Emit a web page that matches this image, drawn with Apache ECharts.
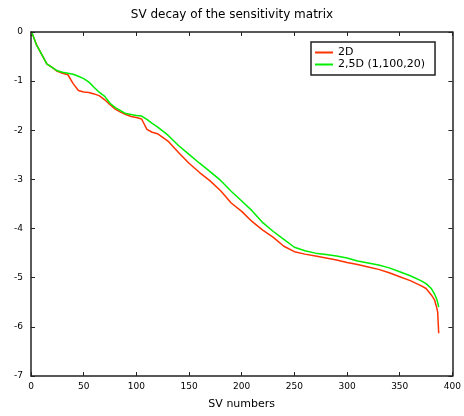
<!DOCTYPE html>
<html>
<head>
<meta charset="utf-8">
<script src="https://cdn.jsdelivr.net/npm/echarts@6/dist/echarts.min.js"></script>
<style>html,body{margin:0;padding:0;background:#fff;}#chart{width:464px;height:416px;}</style>
</head>
<body>
<div id="chart"></div>
<script>
var titleText = 'SV decay of the sensitivity matrix';
var xAxisName = 'SV numbers';
var seriesNames = ['2D', '2,5D (1,100,20)'];
var svNumbers = [1, 5, 10, 15, 20, 25, 30, 35, 40, 45, 50, 55, 60, 65, 70, 75, 80, 85, 90, 95, 100, 105, 110, 115, 120, 130, 140, 150, 160, 170, 180, 190, 200, 210, 220, 230, 240, 250, 260, 270, 280, 290, 300, 310, 320, 330, 340, 350, 360, 370, 375, 380, 383, 385, 386, 387];
var decay2D = [-0.02, -0.25, -0.45, -0.65, -0.72, -0.80, -0.84, -0.87, -1.05, -1.19, -1.22, -1.23, -1.26, -1.30, -1.38, -1.48, -1.57, -1.63, -1.68, -1.72, -1.74, -1.77, -1.98, -2.04, -2.07, -2.22, -2.45, -2.67, -2.86, -3.03, -3.23, -3.48, -3.65, -3.86, -4.03, -4.18, -4.36, -4.47, -4.52, -4.56, -4.60, -4.64, -4.69, -4.73, -4.78, -4.83, -4.90, -4.98, -5.06, -5.16, -5.22, -5.35, -5.45, -5.60, -5.70, -6.13];
var decay25D = [-0.02, -0.25, -0.45, -0.65, -0.72, -0.79, -0.82, -0.84, -0.86, -0.90, -0.95, -1.02, -1.13, -1.23, -1.31, -1.45, -1.54, -1.60, -1.66, -1.68, -1.70, -1.71, -1.78, -1.86, -1.93, -2.10, -2.31, -2.49, -2.67, -2.84, -3.02, -3.24, -3.44, -3.64, -3.88, -4.06, -4.22, -4.38, -4.45, -4.50, -4.53, -4.56, -4.60, -4.66, -4.70, -4.74, -4.80, -4.88, -4.96, -5.06, -5.12, -5.22, -5.33, -5.43, -5.50, -5.60];

function pairs(xs, ys) { return xs.map(function (x, i) { return [x, ys[i]]; }); }

var font = 'DejaVu Sans';
var chart = echarts.init(document.getElementById('chart'), null, {renderer: 'canvas'});
var baseX = {type: 'value', min: 0, max: 400, interval: 50,
  axisLine: {show: true, onZero: false, lineStyle: {color: '#222', width: 1.5}},
  axisTick: {show: true, inside: true, length: 4, lineStyle: {color: '#222'}},
  splitLine: {show: false}};
var baseY = {type: 'value', min: -7, max: 0, interval: 1,
  axisLine: {show: true, onZero: false, lineStyle: {color: '#222', width: 1.5}},
  axisTick: {show: true, inside: true, length: 4, lineStyle: {color: '#222'}},
  splitLine: {show: false}};
chart.setOption({
  backgroundColor: '#fff',
  animation: false,
  title: {text: titleText, left: 'center', top: 4,
    textStyle: {fontFamily: font, fontSize: 12, fontWeight: 'normal', color: '#000'}},
  grid: {left: 31, right: 11, top: 32, bottom: 40},
  legend: {data: seriesNames, orient: 'vertical', left: 311, top: 42,
    backgroundColor: '#fff', borderColor: '#222', borderWidth: 1.5, padding: [5, 10, 5, 4],
    itemGap: 1, itemWidth: 18, itemHeight: 2, icon: 'rect',
    textStyle: {fontFamily: font, fontSize: 11, color: '#000', lineHeight: 11}},
  xAxis: [
    Object.assign({}, baseX, {position: 'bottom', name: xAxisName, nameLocation: 'middle', nameGap: 23,
      nameTextStyle: {fontFamily: font, fontSize: 11, color: '#000'},
      axisLabel: {fontFamily: font, fontSize: 9, color: '#000', margin: 6}}),
    Object.assign({}, baseX, {position: 'top', axisLabel: {show: false}})
  ],
  yAxis: [
    Object.assign({}, baseY, {position: 'left',
      axisLabel: {fontFamily: font, fontSize: 9, color: '#000', margin: 8}}),
    Object.assign({}, baseY, {position: 'right', axisLabel: {show: false}})
  ],
  series: [
    {name: seriesNames[0], type: 'line', data: pairs(svNumbers, decay2D), symbol: 'none',
      lineStyle: {color: '#ff3300', width: 1.5}, itemStyle: {color: '#ff3300'}, z: 2},
    {name: seriesNames[1], type: 'line', data: pairs(svNumbers, decay25D), symbol: 'none',
      lineStyle: {color: '#00ee00', width: 1.5}, itemStyle: {color: '#00ee00'}, z: 3}
  ]
});
</script>
</body>
</html>
